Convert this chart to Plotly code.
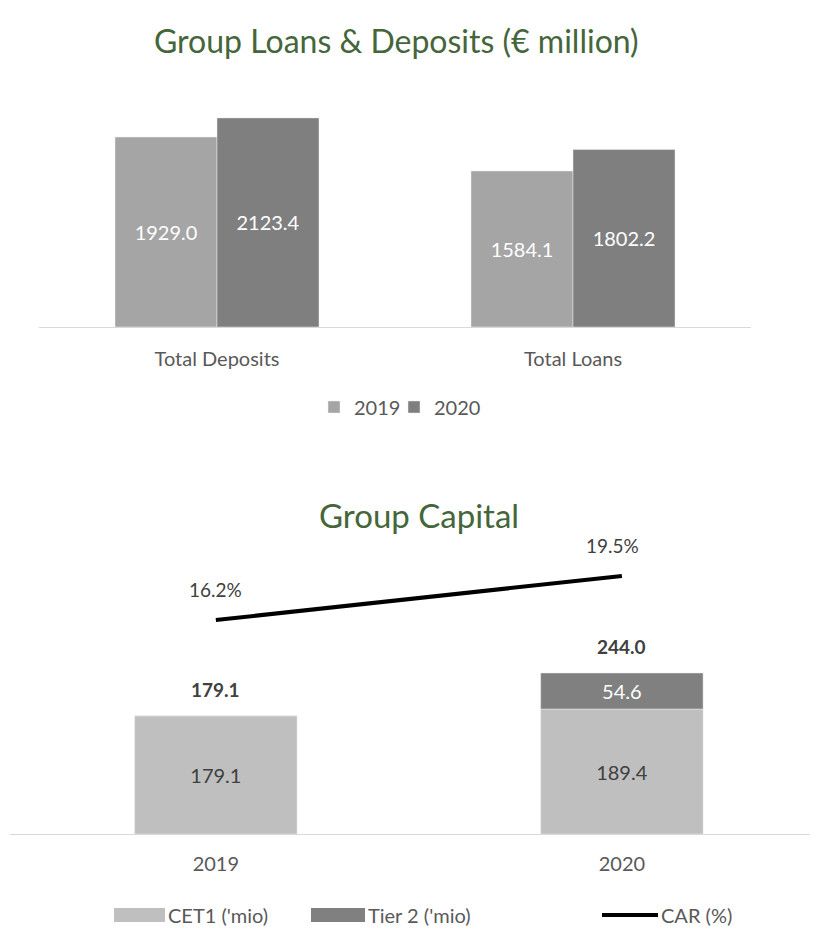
import plotly.graph_objects as go

# ---- data ----
ld_categories = ["Total Deposits", "Total Loans"]
ld_2019 = [1929.0, 1584.1]
ld_2020 = [2123.4, 1802.2]

cap_years = ["2019", "2020"]
cet1 = [179.1, 189.4]
tier2 = [0.0, 54.6]
tier2_labels = ["", "54.6"]
car = [16.2, 19.5]
cap_total = [179.1, 244.0]

# page has an 8px body margin; figure sized to fit the viewport
OFF = 8
W, H = 818 - OFF, 929 - OFF
FONT = "Lato"
GREEN = "#44663a"
GRAY_TXT = "#595959"
DARK_TXT = "#404040"

def px(x):
    return (x - OFF) / W

def py(y):
    return 1 - (y - OFF) / H

fig = go.Figure()

# ---- top chart ----
for name, vals, col, off, leg in [("2019", ld_2019, "#a5a5a5", -0.2865, "legend"),
                                  ("2020", ld_2020, "#7f7f7f", 0.0, "legend2")]:
    fig.add_trace(go.Bar(
        x=ld_categories, y=vals, name=name, marker_color=col,
        width=0.2865, offset=off, xaxis="x", yaxis="y",
        texttemplate="%{y:.1f}", textposition="inside", insidetextanchor="middle",
        textangle=0, textfont=dict(color="white", size=20, family=FONT),
        legend=leg,
    ))

# ---- bottom chart ----
fig.add_trace(go.Bar(
    x=cap_years, y=cet1, name="CET1 ('mio)", marker_color="#bfbfbf",
    width=0.4, xaxis="x2", yaxis="y2", showlegend=False,
    texttemplate="%{y:.1f}", textposition="inside", insidetextanchor="middle",
    textangle=0, textfont=dict(color=DARK_TXT, size=20, family=FONT),
))
fig.add_trace(go.Bar(
    x=cap_years, y=tier2, base=cet1, name="Tier 2 ('mio)", marker_color="#808080",
    width=0.4, xaxis="x2", yaxis="y2", showlegend=False,
    text=tier2_labels, texttemplate="%{text}", textposition="inside",
    insidetextanchor="middle", textangle=0,
    textfont=dict(color="white", size=20, family=FONT),
))
fig.add_trace(go.Scatter(
    x=cap_years, y=car, name="CAR (%)", mode="lines",
    line=dict(color="black", width=4), xaxis="x2", yaxis="y3", showlegend=False,
))

annotations = []
# titles
annotations.append(dict(text="Group Loans & Deposits (€ million)", x=px(396), y=py(40),
                        xref="paper", yref="paper", showarrow=False,
                        xanchor="center", yanchor="middle",
                        font=dict(family=FONT, size=32, color=GREEN)))
annotations.append(dict(text="Group Capital", x=px(419), y=py(515),
                        xref="paper", yref="paper", showarrow=False,
                        xanchor="center", yanchor="middle",
                        font=dict(family=FONT, size=33, color=GREEN)))
# totals above the stacked bars
for i, tv in enumerate(cap_total):
    annotations.append(dict(text="<b>%.1f</b>" % tv, x=i, y=tv, xref="x2", yref="y2",
                            showarrow=False, yshift=26, yanchor="middle",
                            font=dict(family=FONT, size=19, color=DARK_TXT)))
# CAR labels
car_xshift = [0, -9]
for i, cv in enumerate(car):
    annotations.append(dict(text="%.1f%%" % cv, x=i, y=cv, xref="x2", yref="y3",
                            showarrow=False, yshift=31, xshift=car_xshift[i],
                            yanchor="middle",
                            font=dict(family=FONT, size=19, color=DARK_TXT)))

# manual bottom legend
shapes = []
leg_y = 915
shapes.append(dict(type="rect", xref="paper", yref="paper",
                   x0=px(114), x1=px(165), y0=py(922), y1=py(908),
                   fillcolor="#bfbfbf", line=dict(width=0)))
shapes.append(dict(type="rect", xref="paper", yref="paper",
                   x0=px(311), x1=px(365), y0=py(922), y1=py(908),
                   fillcolor="#808080", line=dict(width=0)))
shapes.append(dict(type="line", xref="paper", yref="paper",
                   x0=px(602), x1=px(658), y0=py(leg_y), y1=py(leg_y),
                   line=dict(color="black", width=4)))
for t, xx in [("CET1 ('mio)", 166), ("Tier 2 ('mio)", 366), ("CAR (%)", 659)]:
    annotations.append(dict(text=t, x=px(xx), y=py(leg_y), xref="paper", yref="paper",
                            xanchor="left", yanchor="middle", showarrow=False,
                            font=dict(family=FONT, size=20, color=GRAY_TXT)))

leg_common = dict(orientation="h", xanchor="left", yanchor="middle",
                  font=dict(family=FONT, size=20, color=GRAY_TXT),
                  bgcolor="rgba(0,0,0,0)", itemwidth=30)

fig.update_layout(
    width=W, height=H,
    margin=dict(l=0, r=0, t=0, b=0),
    paper_bgcolor="white", plot_bgcolor="white",
    barmode="overlay",
    font=dict(family=FONT, color=GRAY_TXT),
    xaxis=dict(domain=[px(39), px(751)], anchor="y", type="category",
               range=[-0.5, 1.5], showgrid=False, zeroline=False,
               showline=True, linecolor="#d9d9d9", linewidth=1,
               ticks="", ticklabelstandoff=14,
               tickfont=dict(family=FONT, size=20, color=GRAY_TXT)),
    yaxis=dict(domain=[py(327), py(100)], anchor="x", range=[0, 2305],
               visible=False),
    xaxis2=dict(domain=[px(10), 1.0], anchor="y2", type="category",
                range=[-0.507, 1.483], showgrid=False, zeroline=False,
                showline=True, linecolor="#d9d9d9", linewidth=1,
                ticks="", ticklabelstandoff=12,
                tickfont=dict(family=FONT, size=20, color=GRAY_TXT)),
    yaxis2=dict(domain=[py(834), py(540)], anchor="x2", range=[0, 445.5],
                visible=False),
    yaxis3=dict(overlaying="y2", anchor="x2", range=[0.15, 22.2], visible=False),
    legend=dict(x=px(314), y=py(407), **leg_common),
    legend2=dict(x=px(394), y=py(407), **leg_common),
    annotations=annotations,
    shapes=shapes,
)

fig.write_html("out.html")
